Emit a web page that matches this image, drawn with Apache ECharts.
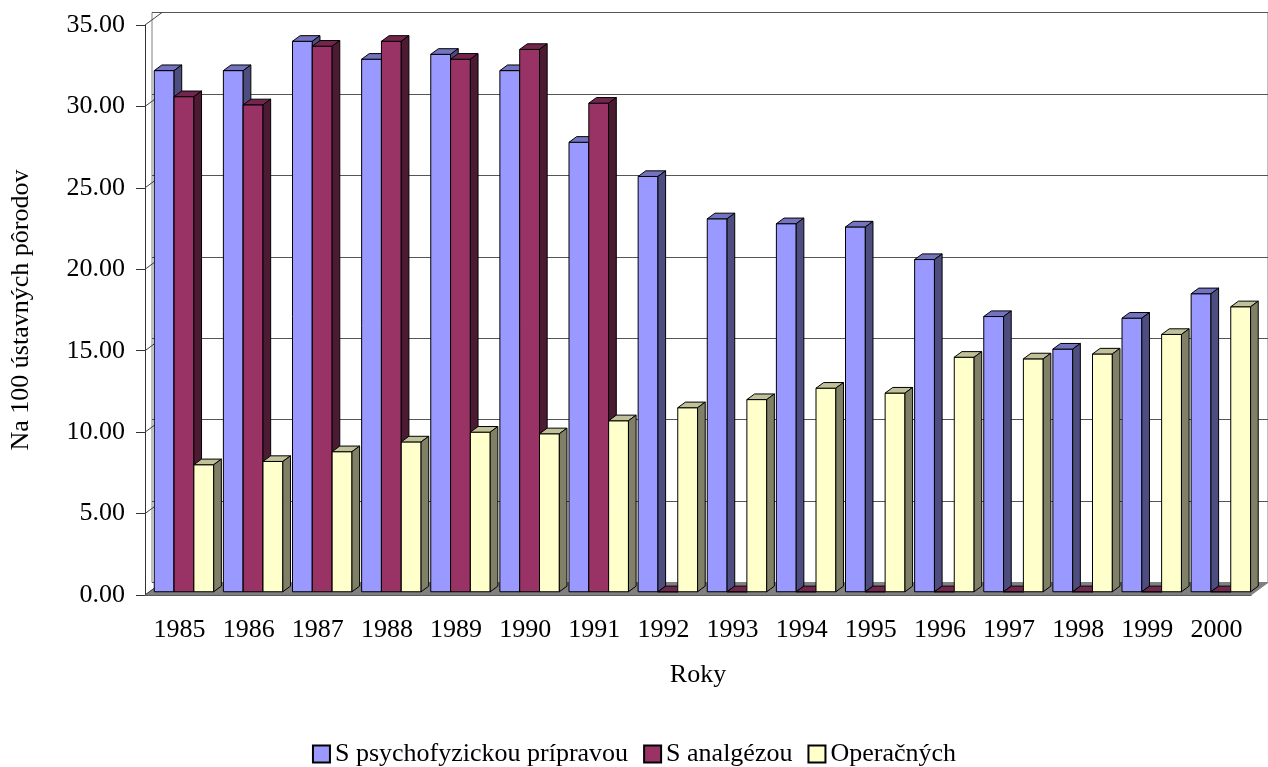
<!DOCTYPE html>
<html lang="sk">
<head>
    <meta charset="UTF-8">
    <title>Pôrody</title>
    <script src="https://cdn.jsdelivr.net/npm/echarts@6/dist/echarts.min.js"></script>
    <style>
        html, body { margin: 0; padding: 0; background: #fff; }
    </style>
</head>
<body>
<div id="myChart" style="width: 1268px;height: 767px"></div>
</body>
<script>
    // data
    var years = ['1985','1986','1987','1988','1989','1990','1991','1992',
                 '1993','1994','1995','1996','1997','1998','1999','2000'];
    var psycho = [32.0, 32.0, 33.8, 32.7, 33.0, 32.0, 27.6, 25.5, 22.9, 22.6, 22.4, 20.4, 16.9, 14.9, 16.8, 18.3];
    var analg  = [30.4, 29.9, 33.5, 33.8, 32.7, 33.3, 30.0, 0, 0, 0, 0, 0, 0, 0, 0, 0];
    var operac = [7.8, 8.0, 8.6, 9.2, 9.8, 9.7, 10.5, 11.3, 11.8, 12.5, 12.2, 14.4, 14.3, 14.6, 15.8, 17.5];
    var yTicks = [0, 5, 10, 15, 20, 25, 30, 35];

    var names = ['S psychofyzickou prípravou', 'S analgézou', 'Operačných'];
    // front / top / side colours of the 3d bars
    var shades = [
        ['#9999FF', '#7373C0', '#4D4D80'],
        ['#993366', '#73264D', '#4D1A33'],
        ['#FFFFCC', '#C0C099', '#808066']
    ];

    var FONT = '"Liberation Serif", "Times New Roman", serif';
    var L = 135, T = 25, W = 1116, H = 570;   // front plane
    var DX = 17, DY = -12.5;                  // depth of the floor
    var F0 = 0.26, F1 = 0.71;                 // bar front / back inside the depth

    function toPairs(arr) {
        return arr.map(function (v, i) { return [i, v]; });
    }

    function barRenderer(k) {
        return function (params, api) {
            var cat = api.value(0), val = api.value(1);
            var base = api.coord([cat, 0]);
            var top = api.coord([cat, val]);
            var band = api.size([1, 0])[0];
            var bw = band * 0.86 / 3;
            var x0 = base[0] - band / 2 + band * 0.07 + k * bw + F0 * DX;
            var yb = base[1] + F0 * DY;
            var yt = top[1] + F0 * DY;
            var ddx = (F1 - F0) * DX, ddy = (F1 - F0) * DY;
            var st = { stroke: '#000', lineWidth: 1 };
            return {
                type: 'group',
                children: [{
                    type: 'polygon',
                    shape: { points: [[x0, yt], [x0 + bw, yt], [x0 + bw, yb], [x0, yb]] },
                    style: Object.assign({ fill: shades[k][0] }, st)
                }, {
                    type: 'polygon',
                    shape: { points: [[x0, yt], [x0 + bw, yt], [x0 + bw + ddx, yt + ddy], [x0 + ddx, yt + ddy]] },
                    style: Object.assign({ fill: shades[k][1] }, st)
                }, {
                    type: 'polygon',
                    shape: { points: [[x0 + bw, yt], [x0 + bw + ddx, yt + ddy], [x0 + bw + ddx, yb + ddy], [x0 + bw, yb]] },
                    style: Object.assign({ fill: shades[k][2] }, st)
                }]
            };
        };
    }

    // floor of the 3d box
    function floorRender(params, api) {
        var cs = params.coordSys;
        var yb = cs.y + cs.height;
        return {
            type: 'polygon',
            shape: { points: [[cs.x, yb], [cs.x + cs.width, yb], [cs.x + cs.width + DX, yb + DY], [cs.x + DX, yb + DY]] },
            style: { fill: '#808080', stroke: '#808080', lineWidth: 1 }
        };
    }

    // little diagonals from the front axis to the back wall
    function diagRender(params, api) {
        var cs = params.coordSys;
        var p = api.coord([0, api.value(1)]);
        return {
            type: 'line',
            shape: { x1: cs.x, y1: p[1], x2: cs.x + DX, y2: p[1] + DY },
            style: { stroke: '#404040', lineWidth: 1 }
        };
    }

    var series = [{
        type: 'custom', name: 'floor', xAxisIndex: 0, yAxisIndex: 0,
        renderItem: floorRender, data: [[0, 0]], silent: true, z: 1
    }, {
        type: 'custom', name: 'diag', xAxisIndex: 0, yAxisIndex: 0,
        renderItem: diagRender, data: yTicks.map(function (v) { return [0, v]; }), silent: true, z: 1
    }];
    [psycho, analg, operac].forEach(function (arr, k) {
        series.push({
            type: 'custom',
            name: names[k],
            xAxisIndex: 0, yAxisIndex: 0,
            renderItem: barRenderer(k),
            encode: { x: 0, y: 1 },
            itemStyle: { color: shades[k][0], borderColor: '#000', borderWidth: 1 },
            data: toPairs(arr),
            z: 3
        });
    });

    var myChart = echarts.init(document.getElementById('myChart'));
    myChart.setOption({
        animation: false,
        backgroundColor: '#fff',
        textStyle: { fontFamily: FONT, color: '#000' },
        legend: {
            data: names,
            left: 'center',
            top: 736,
            icon: 'rect',
            itemWidth: 17,
            itemHeight: 17,
            itemGap: 15,
            textStyle: { fontFamily: FONT, fontSize: 26, color: '#000' }
        },
        grid: [
            { left: L, top: T, width: W, height: H },
            // back wall
            { left: L + DX, top: T + DY, width: W, height: H, show: true,
              borderColor: '#808080', borderWidth: 1, backgroundColor: 'transparent' }
        ],
        xAxis: [{
            type: 'category',
            gridIndex: 0,
            data: years,
            name: 'Roky',
            nameLocation: 'middle',
            nameGap: 67,
            nameTextStyle: { fontFamily: FONT, fontSize: 26, color: '#000' },
            axisLine: { lineStyle: { color: '#333' } },
            axisTick: { length: 10, lineStyle: { color: '#333' } },
            axisLabel: { fontFamily: FONT, fontSize: 26, color: '#000', margin: 22 }
        }, {
            type: 'category',
            gridIndex: 1,
            data: years,
            show: false
        }],
        yAxis: [{
            type: 'value',
            gridIndex: 0,
            min: 0, max: 35, interval: 5,
            name: 'Na 100 ústavných pôrodov',
            nameLocation: 'middle',
            nameGap: 111,
            nameTextStyle: { fontFamily: FONT, fontSize: 26, color: '#000' },
            axisLine: { show: true, lineStyle: { color: '#333' } },
            axisTick: { show: true, length: 9, lineStyle: { color: '#333' } },
            splitLine: { show: false },
            axisLabel: {
                fontFamily: FONT, fontSize: 26, color: '#000', margin: 20,
                formatter: function (v) { return v.toFixed(2); }
            }
        }, {
            type: 'value',
            gridIndex: 1,
            min: 0, max: 35, interval: 5,
            axisLine: { show: false },
            axisTick: { show: false },
            axisLabel: { show: false },
            splitLine: { show: true, lineStyle: { color: '#555', width: 1 } }
        }],
        series: series
    });
</script>
</html>
